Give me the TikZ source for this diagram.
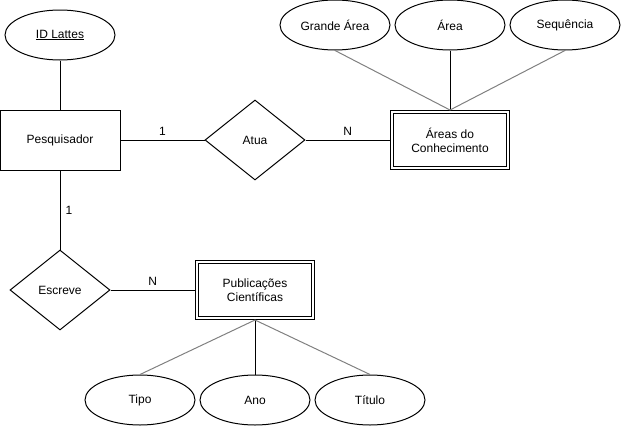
\documentclass[tikz,border=0pt]{standalone}
\usepackage{fontspec}
\setmainfont{Liberation Sans}
\usetikzlibrary{shapes.geometric}
\begin{document}
\begin{tikzpicture}[x=1pt, y=-1pt, line width=1pt,
        font=\fontsize{12}{14}\selectfont,
        entity/.style={draw, rectangle, minimum width=120pt, minimum height=60pt, inner sep=0pt, align=center},
        weakentity/.style={draw, double, double distance=2pt, rectangle, minimum width=116pt, minimum height=56pt, inner sep=0pt, outer sep=2pt, align=center},
        attrib/.style={draw, ellipse, minimum width=110pt, minimum height=50pt, inner sep=0pt},
        relation/.style={draw, diamond, minimum width=100pt, minimum height=80pt, inner sep=0pt},
        card/.style={inner sep=1pt},
        faint/.style={draw=gray}]
    \useasboundingbox (0,0) rectangle (621,426);
    % entidades
    \node (pesq) at (60,140) [entity] {Pesquisador};
    \node (areas) at (450,140) [weakentity] {Áreas do\\Conhecimento};
    \node (pub) at (255,290) [weakentity] {Publicações\\Científicas};
    % relacionamentos
    \node (atua) at (255,140) [relation] {Atua};
    \node (escreve) at (60,290) [relation] {Escreve};
    % atributos
    \node (idlattes) at (60,35) [attrib] {\underline{ID Lattes}};
    \node (grande) at (335,25) [attrib] {Grande Área};
    \node (area) at (450,25) [attrib] {Área};
    \node (seq) at (565,25) [attrib] {Sequência};
    \node (tipo) at (140,400) [attrib] {Tipo};
    \node (ano) at (255,400) [attrib] {Ano};
    \node (titulo) at (370,400) [attrib] {Título};
    % ligacoes
    \draw (idlattes) -- (pesq);
    \draw (pesq) -- node[card, above=3pt] {1} (atua);
    \draw (atua) -- node[card, above=3pt] {N} (areas);
    \draw (pesq) -- node[card, right=4pt] {1} (escreve);
    \draw (escreve) -- node[card, above=3pt] {N} (pub);
    \draw[faint] (grande.south) -- (areas.north);
    \draw (area) -- (areas);
    \draw[faint] (seq.south) -- (areas.north);
    \draw[faint] (pub.south) -- (tipo.north);
    \draw (pub) -- (ano);
    \draw[faint] (pub.south) -- (titulo.north);
\end{tikzpicture}
\end{document}
